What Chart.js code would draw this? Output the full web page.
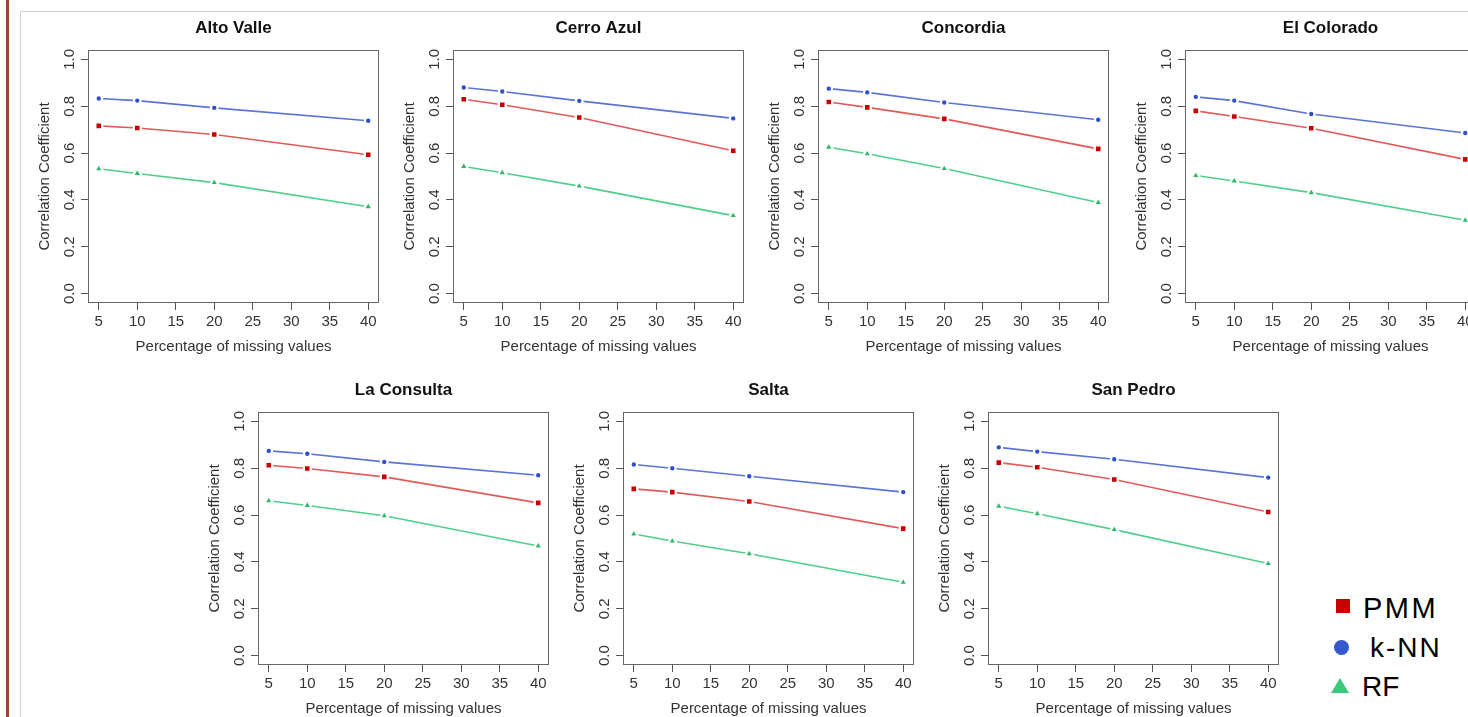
<!DOCTYPE html>
<html>
<head>
<meta charset="utf-8">
<script src="https://cdn.jsdelivr.net/npm/chart.js@4"></script>
<style>
  html, body { margin: 0; padding: 0; background: #fff; }
  body { width: 1468px; height: 717px; overflow: hidden; position: relative; font-family: "Liberation Sans", Arial, sans-serif; }
  .edge { position: absolute; left: 6px; top: 0; width: 3px; height: 717px; background: #a5412f; }
  .frame { position: absolute; left: 20px; top: 11px; width: 1460px; height: 720px; border-top: 1px solid #d0d0d0; border-left: 1px solid #d0d0d0; }
  canvas.panel { position: absolute; }
  .mk { position: absolute; }
  .lg { position: absolute; font-size: 28px; line-height: 32px; color: #000; white-space: nowrap; }
</style>
</head>
<body>
<div class="edge"></div>
<div class="frame"></div>

<div class="mk" style="left:1336px; top:599px; width:14px; height:14px; background:#c80000;"></div>
<div class="lg" style="left:1363px; top:592px; font-size:29px; letter-spacing:2.5px;">PMM</div>
<div class="mk" style="left:1334px; top:640px; width:15px; height:15px; border-radius:50%; background:#3557cf;"></div>
<div class="lg" style="left:1370px; top:632px; letter-spacing:2px;">k-NN</div>
<div class="mk" style="left:1331px; top:678px; width:0; height:0; border-left:9px solid transparent; border-right:9px solid transparent; border-bottom:15px solid #3cc97a;"></div>
<div class="lg" style="left:1362px; top:671px;">RF</div>

<script>
// Data
const stations = ['Alto Valle', 'Cerro Azul', 'Concordia', 'El Colorado', 'La Consulta', 'Salta', 'San Pedro'];
const missingPct = [5, 10, 20, 40];
const xTicks = [5, 10, 15, 20, 25, 30, 35, 40];
const yTicks = [0, 0.2, 0.4, 0.6, 0.8, 1.0];
const yTickLabels = ['0.0', '0.2', '0.4', '0.6', '0.8', '1.0'];

// one row per station, values at 5, 10, 20, 40 %
const pmm = [
  [0.716, 0.707, 0.679, 0.593],
  [0.830, 0.806, 0.752, 0.610],
  [0.818, 0.795, 0.746, 0.618],
  [0.780, 0.756, 0.706, 0.573],
  [0.813, 0.799, 0.763, 0.652],
  [0.712, 0.698, 0.658, 0.542],
  [0.824, 0.804, 0.752, 0.613]
];
const knn = [
  [0.833, 0.824, 0.793, 0.738],
  [0.880, 0.863, 0.823, 0.748],
  [0.875, 0.859, 0.816, 0.742],
  [0.840, 0.824, 0.767, 0.686],
  [0.874, 0.862, 0.827, 0.770],
  [0.816, 0.800, 0.766, 0.698],
  [0.889, 0.871, 0.838, 0.760]
];
const rf = [
  [0.533, 0.513, 0.474, 0.371],
  [0.543, 0.516, 0.459, 0.333],
  [0.625, 0.597, 0.534, 0.389],
  [0.504, 0.481, 0.431, 0.313],
  [0.661, 0.641, 0.597, 0.468],
  [0.519, 0.489, 0.435, 0.313],
  [0.638, 0.606, 0.538, 0.393]
];

// plot box positions (left, top) of each panel
const boxPos = [
  [88, 50], [453, 50], [818, 50], [1185, 50],
  [258, 412], [623, 412], [988, 412]
];
const BOX_W = 291, BOX_H = 253, PAD_L = 62, PAD_T = 42, PAD_R = 8, PAD_B = 64;

Chart.defaults.font.family = '"Liberation Sans", Arial, sans-serif';
Chart.defaults.color = '#333';

// R style box + rotated y tick labels
const rFrame = {
  id: 'rFrame',
  afterDraw(chart) {
    const { ctx, chartArea: a } = chart;
    const y = chart.scales.y;
    ctx.save();
    ctx.strokeStyle = '#666';
    ctx.lineWidth = 1;
    ctx.strokeRect(a.left + 0.5, a.top + 0.5, a.right - a.left - 1, a.bottom - a.top - 1);
    ctx.fillStyle = '#333';
    ctx.font = '15px "Liberation Sans", Arial, sans-serif';
    ctx.textAlign = 'center';
    ctx.textBaseline = 'middle';
    yTicks.forEach((v, i) => {
      ctx.save();
      ctx.translate(a.left - 18, y.getPixelForValue(v));
      ctx.rotate(-Math.PI / 2);
      ctx.fillText(yTickLabels[i], 0, 0);
      ctx.restore();
    });
    ctx.restore();
  }
};

function series(label, values, line, fill, style, radius) {
  return {
    label: label,
    data: missingPct.map((x, k) => ({ x: x, y: values[k] })),
    borderColor: line,
    borderWidth: 1.6,
    pointStyle: style,
    pointRadius: radius,
    pointBackgroundColor: fill,
    pointBorderColor: '#fff',
    pointBorderWidth: 2.2,
    fill: false,
    tension: 0
  };
}

stations.forEach((name, i) => {
  const cv = document.createElement('canvas');
  cv.className = 'panel';
  cv.width = PAD_L + BOX_W + PAD_R;
  cv.height = PAD_T + BOX_H + PAD_B;
  cv.style.left = (boxPos[i][0] - PAD_L) + 'px';
  cv.style.top = (boxPos[i][1] - PAD_T) + 'px';
  document.body.appendChild(cv);

  new Chart(cv.getContext('2d'), {
    type: 'line',
    data: {
      datasets: [
        series('k-NN', knn[i], '#5a73d6', '#2e50c8', 'circle', 3.3),
        series('PMM', pmm[i], '#e05a5a', '#c80000', 'rect', 4.8),
        series('RF', rf[i], '#4fcf8a', '#2fb86a', 'triangle', 5.2)
      ]
    },
    options: {
      responsive: false,
      animation: false,
      layout: { padding: { left: 0, top: 0, right: PAD_R, bottom: 0 } },
      scales: {
        x: {
          type: 'linear',
          min: 3.6,
          max: 41.4,
          afterBuildTicks: s => { s.ticks = xTicks.map(v => ({ value: v })); },
          afterFit: s => { s.height = PAD_B; },
          grid: { drawOnChartArea: false, drawTicks: true, tickLength: 7, color: '#555' },
          border: { display: false },
          ticks: { color: '#333', font: { size: 15 }, padding: 3, maxRotation: 0, autoSkip: false },
          title: { display: true, text: 'Percentage of missing values', color: '#333', font: { size: 15 }, padding: { top: 0, bottom: 11 } }
        },
        y: {
          type: 'linear',
          min: -0.04,
          max: 1.04,
          afterBuildTicks: s => { s.ticks = yTicks.map(v => ({ value: v })); },
          afterFit: s => { s.width = PAD_L; },
          grid: { drawOnChartArea: false, drawTicks: true, tickLength: 7, color: '#555' },
          border: { display: false },
          ticks: { display: false },
          title: { display: true, text: 'Correlation Coefficient', color: '#333', font: { size: 15 }, padding: { top: 10, bottom: 0 } }
        }
      },
      plugins: {
        legend: { display: false },
        tooltip: { enabled: false },
        title: {
          display: true,
          text: name,
          fullSize: false,
          color: '#111',
          font: { size: 17, weight: 'bold' },
          padding: { top: 10, bottom: 11.6 }
        }
      }
    },
    plugins: [rFrame]
  });
});
</script>
</body>
</html>
